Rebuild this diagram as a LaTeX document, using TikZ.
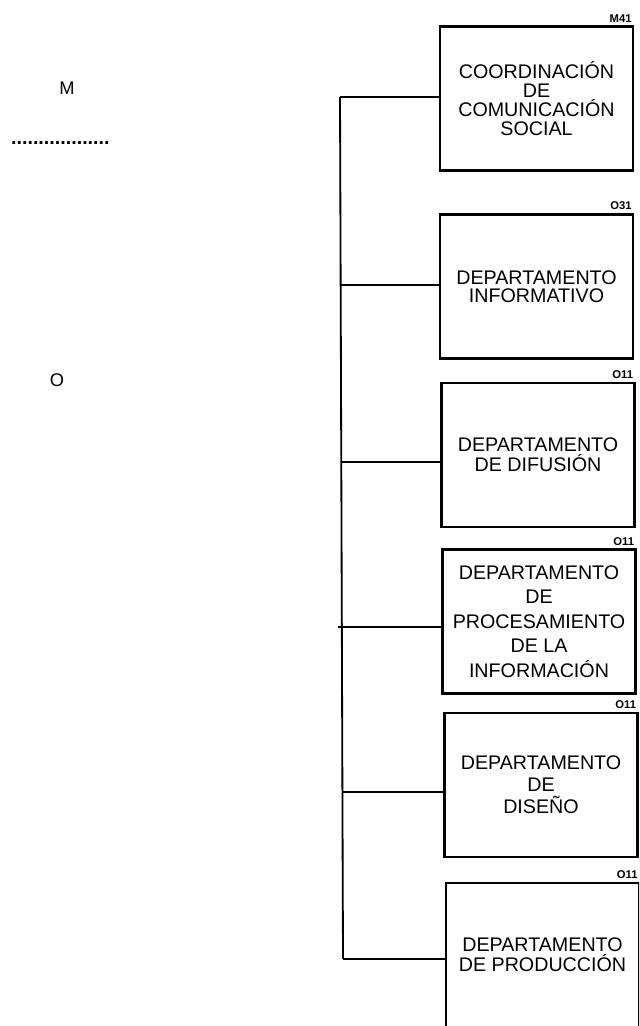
\documentclass[tikz,border=0pt]{standalone}
\usepackage{fontspec}
\setmainfont{Liberation Sans}
\usepackage{tikz}
\usetikzlibrary{positioning}

\begin{document}
\begin{tikzpicture}[x=0.025cm,y=-0.025cm,line width=1.6pt]
  \tikzstyle{dept}=[rectangle,draw,minimum width=4.825cm,minimum height=3.6cm,align=center,inner sep=2pt,font=\fontsize{14}{14.2}\selectfont]
  \tikzstyle{clave}=[inner sep=1pt,font=\fontsize{8}{9}\selectfont\bfseries]
  \tikzstyle{nivel}=[inner sep=0pt,font=\fontsize{13}{14}\selectfont]
  \tikzstyle{rama}=[line width=1.3pt]

  \clip (0,0) rectangle (639,1026);

  % niveles
  \node[nivel] (m) at (67,88) {M};
  \node[nivel,anchor=base west,font=\fontsize{14}{15}\selectfont\bfseries] (punt) at (10,144) {..................};
  \node[nivel] (o) at (57,380) {O};

  % unidades
  \node[dept,font=\fontsize{14}{13.7}\selectfont] (coord) at (536.5,98.5) {COORDINACIÓN\\DE\\COMUNICACIÓN\\SOCIAL};
  \node[dept,font=\fontsize{14}{13}\selectfont] (info) at (536.5,286.5) {DEPARTAMENTO\\INFORMATIVO};
  \node[dept] (difu) at (538,455) {DEPARTAMENTO\\DE DIFUSIÓN};
  \node[dept,font=\fontsize{14}{17.5}\selectfont] (proc) at (539,621.5) {DEPARTAMENTO\\DE\\PROCESAMIENTO\\DE LA\\INFORMACIÓN};
  \node[dept,font=\fontsize{14}{15.6}\selectfont] (dise) at (541,785) {DEPARTAMENTO\\DE\\DISEÑO};
  \node[dept] (prod) at (542.5,955) {DEPARTAMENTO\\DE PRODUCCIÓN};

  \node[clave,above left=0.5pt and 0pt of coord.north east] (k1) {M41};
  \node[clave,above left=0.5pt and 0pt of info.north east] (k2) {O31};
  \node[clave,above left=0.5pt and 0pt of difu.north east] (k3) {O11};
  \node[clave,above left=0.5pt and 0pt of proc.north east] (k4) {O11};
  \node[clave,above left=0.5pt and 0pt of dise.north east] (k5) {O11};
  \node[clave,above left=0.5pt and 0pt of prod.north east] (k6) {O11};

  % tronco
  \coordinate (j1) at (340,97);
  \coordinate (j2) at (340.5,285);
  \coordinate (j3) at (341,462);
  \coordinate (j4) at (338,627);
  \coordinate (j5) at (342,792);
  \coordinate (j6) at (343,959);

  \draw[rama] (j1) -- (j6);
  \draw[rama] (j1) -- (j1 -| coord.west);
  \draw[rama] (j2) -- (j2 -| info.west);
  \draw[rama] (j3) -- (j3 -| difu.west);
  \draw[rama] (j4) -- (j4 -| proc.west);
  \draw[rama] (j5) -- (j5 -| dise.west);
  \draw[rama] (j6) -- (j6 -| prod.west);
\end{tikzpicture}
\end{document}
